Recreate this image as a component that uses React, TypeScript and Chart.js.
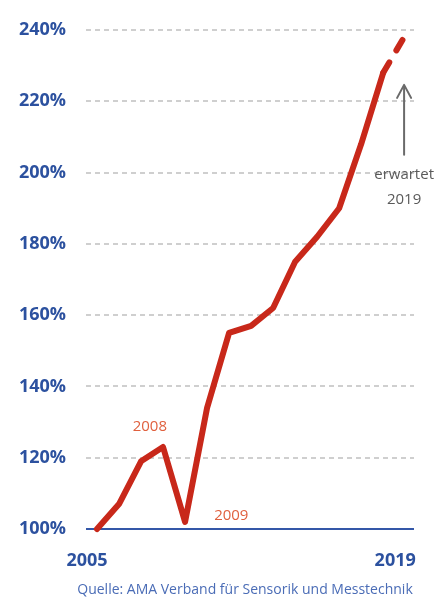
import React, { useEffect, useRef } from "react";
import { Chart, registerables } from "chart.js";

Chart.register(...registerables);

const years: number[] = [2005, 2006, 2007, 2008, 2009, 2010, 2011, 2012, 2013, 2014, 2015, 2016, 2017, 2018, 2019];
const values: number[] = [100, 107, 119, 123, 102, 134, 155, 157, 162, 175, 182, 190, 208, 228, 238.5];
const xTickYears: number[] = [2005, 2019];
const yMin = 100;
const yMax = 240;
const yStep = 20;
const annotation2008 = "2008";
const annotation2009 = "2009";
const expectedLines: string[] = ["erwartet", "2019"];
const sourceText = "Quelle: AMA Verband für Sensorik und Messtechnik";

const FONT = "'Open Sans', 'Noto Sans', sans-serif";
const BLUE = "#2c519f";
const RED = "#c8281a";
const ORANGE = "#e0603e";
const GRAY = "#5a5a5a";

const extrasPlugin = {
  id: "extras",
  afterDatasetsDraw(chart: any) {
    const ctx = chart.ctx as CanvasRenderingContext2D;
    const xs = chart.scales.x;
    const ys = chart.scales.y;
    ctx.save();
    ctx.textAlign = "center";
    ctx.textBaseline = "middle";
    // year annotations
    ctx.fillStyle = ORANGE;
    ctx.font = `15px ${FONT}`;
    ctx.fillText(annotation2008, xs.getPixelForValue(2007.4), ys.getPixelForValue(128.6));
    ctx.fillText(annotation2009, xs.getPixelForValue(2011.1), ys.getPixelForValue(103.6));

    // arrow
    const ax = xs.getPixelForValue(2018.95);
    const yTop = ys.getPixelForValue(224.6);
    const yBot = ys.getPixelForValue(205);
    ctx.strokeStyle = "#6a6a6a";
    ctx.lineWidth = 2;
    ctx.lineCap = "round";
    ctx.lineJoin = "round";
    ctx.beginPath();
    ctx.moveTo(ax, yBot);
    ctx.lineTo(ax, yTop + 1);
    ctx.stroke();
    ctx.beginPath();
    ctx.moveTo(ax - 7, yTop + 13);
    ctx.lineTo(ax, yTop);
    ctx.lineTo(ax + 7, yTop + 13);
    ctx.stroke();

    ctx.fillStyle = GRAY;
    ctx.font = `15px ${FONT}`;
    ctx.fillText(expectedLines[0], ax, ys.getPixelForValue(199.3));
    ctx.fillText(expectedLines[1], ax, ys.getPixelForValue(192.3));

    // source
    ctx.fillStyle = "#4a6cb6";
    ctx.font = `14px ${FONT}`;
    ctx.textBaseline = "alphabetic";
    ctx.fillText(sourceText, 245, 594, 349);
    ctx.restore();
  },
};

export default function App() {
  const ref = useRef<HTMLCanvasElement | null>(null);

  useEffect(() => {
    if (!ref.current) return;
    const chart = new Chart(ref.current, {
      type: "line",
      data: {
        datasets: [
          {
            data: years.map((y, i) => ({ x: y, y: values[i] })),
            borderColor: RED,
            borderWidth: 6,
            borderCapStyle: "round",
            borderJoinStyle: "round",
            pointRadius: 0,
            tension: 0,
            fill: false,
            clip: false,
            segment: {
              borderDash: (c: any) => (c.p0DataIndex === years.length - 2 ? [12, 14] : undefined),
            },
          } as any,
        ],
      },
      options: {
        animation: false,
        responsive: false,
        maintainAspectRatio: false,
        layout: { padding: { top: 30, right: 28, left: 0, bottom: 0 } },
        plugins: {
          legend: { display: false },
          tooltip: { enabled: false },
          title: { display: false },
        },
        scales: {
          x: {
            type: "linear",
            min: 2004.5,
            max: 2019.4,
            afterBuildTicks: (s: any) => {
              s.ticks = xTickYears.map((v) => ({ value: v }));
            },
            afterFit: (s: any) => {
              s.height = 69;
              s.paddingLeft = 0;
              s.paddingRight = 0;
            },
            grid: { display: false, drawTicks: false },
            border: { display: false },
            ticks: {
              autoSkip: false,
              maxRotation: 0,
              labelOffset: -10,
              padding: 21,
              color: BLUE,
              font: { family: FONT, size: 18, weight: "bold" },
              callback: (v: any) => String(v),
            },
          },
          y: {
            min: yMin,
            max: yMax,
            afterFit: (s: any) => {
              s.width = 86;
              s.paddingTop = 0;
              s.paddingBottom = 0;
            },
            grid: {
              drawTicks: false,
              color: (c: any) => (c.tick && c.tick.value === yMin ? "#3457a8" : "#cfcfcf"),
              lineWidth: 2,
            },
            border: {
              display: false,
              dash: (c: any) => (c.tick && c.tick.value === yMin ? [] : [5, 4]),
            },
            ticks: {
              stepSize: yStep,
              padding: 20,
              color: BLUE,
              font: { family: FONT, size: 18, weight: "bold" },
              callback: (v: any) => `${v}%`,
            },
          },
        },
      },
      plugins: [extrasPlugin],
    });
    return () => chart.destroy();
  }, []);

  return (
    <div style={{ position: "absolute", left: 0, top: 0, width: 442, height: 598, background: "#fff" }}>
      <canvas ref={ref} width={442} height={598} style={{ width: 442, height: 598, display: "block" }} />
    </div>
  );
}
